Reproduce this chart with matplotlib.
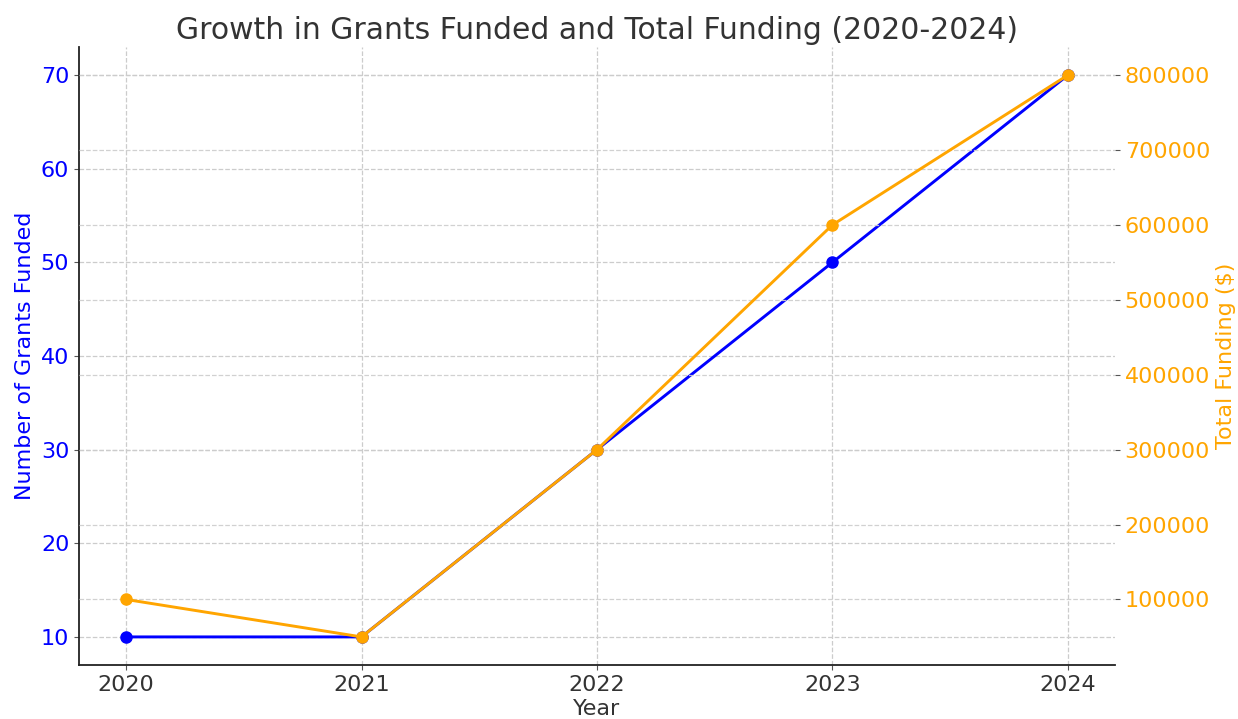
import matplotlib
matplotlib.use("Agg")
import matplotlib.pyplot as plt

years = [2020, 2021, 2022, 2023, 2024]
grants_funded = [10, 10, 30, 50, 70]
total_funding = [100000, 50000, 300000, 600000, 800000]

fig, ax1 = plt.subplots(figsize=(12.38, 7.19), dpi=100)
fig.subplots_adjust(left=0.0638, right=0.9006, bottom=0.0751, top=0.9346)

ax1.plot(years, grants_funded, color="blue", marker="o", linewidth=2.1, markersize=8)
ax1.set_xlabel("Year", fontsize=16, color="#333333", labelpad=3)
ax1.set_ylabel("Number of Grants Funded", fontsize=16, color="blue")
ax1.tick_params(axis="y", labelcolor="blue", labelsize=16, color="#555555")
ax1.tick_params(axis="x", labelcolor="#333333", labelsize=16, color="#555555")
ax1.set_xticks(years)
ax1.grid(True, linestyle="--", color="#cccccc", linewidth=0.9)

ax2 = ax1.twinx()
ax2.set_axisbelow(True)
ax2.plot(years, total_funding, color="orange", marker="o", linewidth=2.1, markersize=8)
ax2.set_ylabel("Total Funding ($)", fontsize=16, color="orange")
ax2.tick_params(axis="y", labelcolor="orange", labelsize=16, color="#555555")
ax2.grid(True, axis="y", linestyle="--", color="#cccccc", linewidth=0.9, alpha=0.9)
ax2.ticklabel_format(axis="y", style="plain", useOffset=False)

for ax in (ax1, ax2):
    ax.spines["top"].set_visible(False)
    ax.spines["right"].set_visible(False)
ax2.spines["left"].set_visible(False)
ax2.spines["bottom"].set_visible(False)
for s in ("left", "bottom"):
    ax1.spines[s].set_color("#222222")
    ax1.spines[s].set_linewidth(1.3)

ax1.set_title("Growth in Grants Funded and Total Funding (2020-2024)",
              fontsize=21.5, color="#333333")

fig.savefig("out.png")
